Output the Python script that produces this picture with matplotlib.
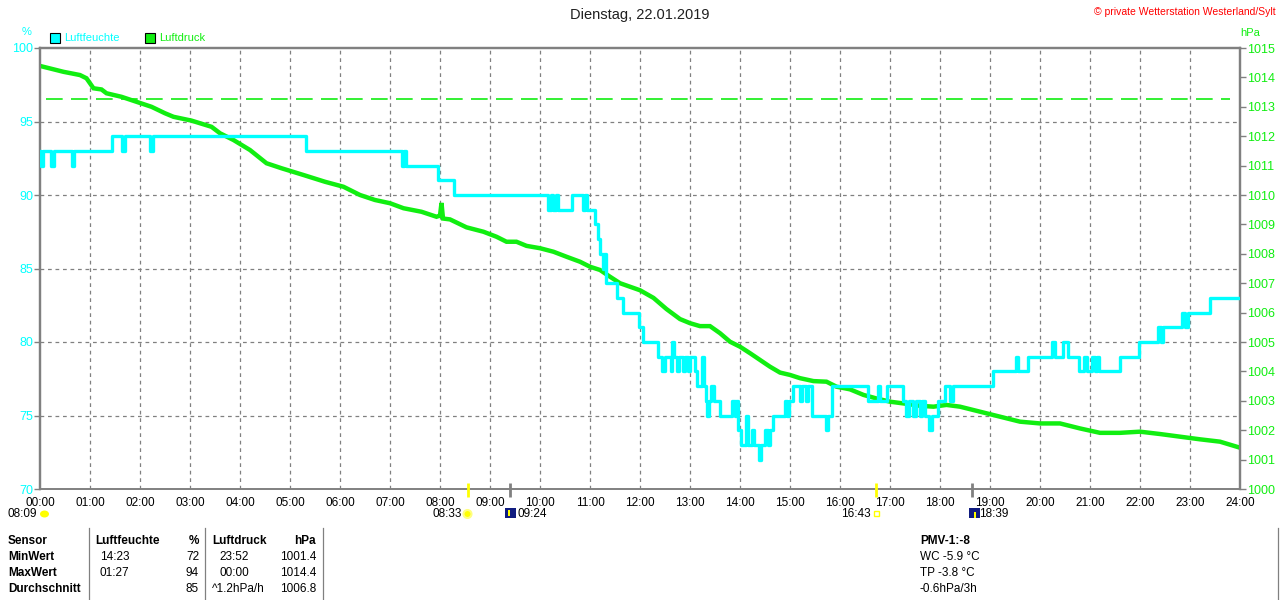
import matplotlib
matplotlib.use("Agg")
import matplotlib.pyplot as plt
import matplotlib.transforms as mtransforms
from matplotlib.patches import Rectangle, Ellipse
import numpy as np

plt.rcParams['font.family'] = ['Liberation Sans', 'DejaVu Sans']

# ---------------- data ----------------
title = "Dienstag, 22.01.2019"
copyright_text = "\u00a9 private Wetterstation Westerland/Sylt"

# relative humidity (%), step series: time in hours, value
hum_t = [0.00, 0.02, 0.06, 0.22, 0.28, 0.64, 0.68, 1.44, 1.64, 1.70, 2.20, 2.26,
         5.32, 7.24, 7.28, 7.32, 7.96, 8.28, 10.16, 10.22, 10.26, 10.32, 10.36,
         10.64, 10.86, 10.90, 10.94, 11.10, 11.16, 11.20, 11.26, 11.28, 11.32,
         11.54, 11.66, 11.98, 12.06, 12.36, 12.44, 12.50, 12.62, 12.64, 12.68,
         12.74, 12.78, 12.86, 12.90, 12.96, 13.00, 13.10, 13.14, 13.24, 13.28,
         13.32, 13.34, 13.38, 13.42, 13.48, 13.60, 13.84, 13.90, 13.92, 13.96,
         14.02, 14.12, 14.16, 14.24, 14.28, 14.38, 14.42, 14.50, 14.56, 14.60,
         14.66, 14.90, 14.94, 14.98, 15.06, 15.20, 15.24, 15.32, 15.36, 15.44,
         15.72, 15.76, 15.84, 16.56, 16.76, 16.80, 16.94, 17.26, 17.32, 17.38,
         17.46, 17.52, 17.60, 17.64, 17.70, 17.78, 17.84, 17.96, 18.10, 18.20,
         18.26, 19.06, 19.52, 19.56, 19.76, 20.24, 20.30, 20.46, 20.56, 20.78,
         20.88, 20.94, 21.04, 21.10, 21.14, 21.18, 21.60, 21.98, 22.36, 22.42,
         22.46, 22.84, 22.90, 22.96, 23.40, 24.00]
hum_v = [93, 92, 93, 92, 93, 92, 93, 94, 93, 94, 93, 94,
         93, 92, 93, 92, 91, 90, 89, 90, 89, 90, 89,
         90, 89, 90, 89, 88, 87, 86, 85, 86, 84,
         83, 82, 81, 80, 79, 78, 79, 78, 80, 79,
         78, 79, 78, 79, 78, 79, 78, 77, 79, 77,
         76, 75, 76, 77, 76, 75, 76, 75, 76, 74,
         73, 75, 73, 74, 73, 72, 73, 74, 73, 74,
         75, 76, 75, 76, 77, 76, 77, 76, 77, 75,
         74, 75, 77, 76, 77, 76, 77, 76, 75, 76,
         75, 76, 75, 76, 75, 74, 75, 76, 77, 76,
         77, 78, 79, 78, 79, 80, 79, 80, 79, 78,
         79, 78, 79, 78, 79, 78, 79, 80, 81, 80,
         81, 82, 81, 82, 83, 83]

# air pressure (hPa)
pres_t = [0.00, 0.47, 0.80, 0.93, 1.07, 1.23, 1.33, 1.63, 1.93, 2.23, 2.50, 2.67,
          3.03, 3.43, 3.60, 3.87, 4.20, 4.53, 4.83, 5.27, 5.70, 6.07, 6.40, 6.70,
          7.00, 7.27, 7.63, 7.93, 8.00, 8.03, 8.06, 8.20, 8.53, 8.87, 9.13, 9.33,
          9.53, 9.73, 10.00, 10.27, 10.53, 10.80, 11.00, 11.20, 11.40, 11.60,
          11.80, 12.00, 12.27, 12.53, 12.80, 13.00, 13.20, 13.40, 13.60, 13.80,
          14.00, 14.20, 14.40, 14.60, 14.80, 15.00, 15.20, 15.47, 15.73, 15.93,
          16.20, 16.47, 16.73, 17.00, 17.27, 17.60, 17.87, 18.13, 18.40, 18.80,
          19.20, 19.60, 20.00, 20.40, 20.80, 21.20, 21.60, 22.00, 22.40, 22.80,
          23.20, 23.60, 23.97]
pres_v = [1014.39, 1014.19, 1014.08, 1013.97, 1013.63, 1013.59, 1013.46, 1013.34,
          1013.17, 1013.00, 1012.78, 1012.66, 1012.53, 1012.32, 1012.10, 1011.87,
          1011.53, 1011.08, 1010.91, 1010.68, 1010.45, 1010.28, 1010.00, 1009.83,
          1009.72, 1009.55, 1009.43, 1009.26, 1009.30, 1009.73, 1009.20, 1009.17,
          1008.90, 1008.75, 1008.58, 1008.41, 1008.41, 1008.27, 1008.19, 1008.07,
          1007.90, 1007.73, 1007.56, 1007.45, 1007.22, 1007.00, 1006.88, 1006.76,
          1006.50, 1006.12, 1005.78, 1005.64, 1005.54, 1005.54, 1005.30, 1005.01,
          1004.84, 1004.62, 1004.39, 1004.16, 1003.96, 1003.88, 1003.77, 1003.67,
          1003.65, 1003.48, 1003.39, 1003.20, 1003.08, 1002.97, 1002.91, 1002.83,
          1002.80, 1002.86, 1002.80, 1002.63, 1002.46, 1002.29, 1002.23, 1002.23,
          1002.06, 1001.91, 1001.91, 1001.95, 1001.87, 1001.78, 1001.69, 1001.61,
          1001.42]
pres_ref = 1013.25

hum_ticks = [70, 75, 80, 85, 90, 95, 100]
pres_ticks = list(range(1000, 1016))
hour_ticks = list(range(0, 25))
hour_labels = [f"{h:02d}:00" for h in hour_ticks]

# sun / moon events (hours)
sunrise, sunset = 8 + 33 / 60, 16 + 43 / 60
moonset, moonrise = 9 + 24 / 60, 18 + 39 / 60
dawn_label = "08:09"

table_rows = ["Sensor", "MinWert", "MaxWert", "Durchschnitt"]
hum_col_time = ["Luftfeuchte", "14:23", "01:27", ""]
hum_col_val = ["%", "72", "94", "85"]
pres_col_time = ["Luftdruck", "23:52", "00:00", "^1.2hPa/h"]
pres_col_val = ["hPa", "1001.4", "1014.4", "1006.8"]
pmv_lines = ["PMV-1:-8", "WC -5.9 \u00b0C", "TP -3.8 \u00b0C", "-0.6hPa/3h"]

# ---------------- style ----------------
CYAN = "#00ffff"
GREEN = "#11ee11"
GRAY = "#808080"
W, H = 1280, 600

def fx(x):
    return x / W

def fy(y):
    return 1 - y / H

fig = plt.figure(figsize=(12.8, 6), dpi=100)
ax = fig.add_axes([fx(40), fy(489), 1200 / W, 441 / H])
ax2 = ax.twinx()
ax.set_zorder(ax2.get_zorder() + 1)
ax.patch.set_visible(False)

ax.set_xlim(0, 24)
ax.set_ylim(70, 100)
ax2.set_ylim(1000, 1015)

# grid
for h in hour_ticks[1:-1]:
    ax2.axvline(h, color=GRAY, lw=0.9, ls=(0, (3, 3)), zorder=1)
for v in hum_ticks[1:-1]:
    ax2.axhline(1000 + (v - 70) / 2, color=GRAY, lw=0.9, ls=(0, (3, 3)), zorder=1)

# reference pressure line
ax2.axhline(pres_ref, xmin=0.005, xmax=0.992, color=GREEN, lw=1.2,
            ls=(0, (10, 5)), zorder=2)

ax2.plot(pres_t, pres_v, color=GREEN, lw=3.2, zorder=3, solid_joinstyle='miter')
ax.plot(hum_t, hum_v, color=CYAN, lw=2.4, drawstyle='steps-post', zorder=4)

# spines
for a in (ax, ax2):
    for s in a.spines.values():
        s.set_color(GRAY)
        s.set_linewidth(1.6)
    a.spines['bottom'].set_linewidth(1.2)

ax.set_yticks(hum_ticks)
ax.set_yticklabels([str(v) for v in hum_ticks])
ax.tick_params(axis='y', colors=GRAY, labelcolor=CYAN, labelsize=9, length=4,
               width=1, pad=1)
ax2.set_yticks(pres_ticks)
ax2.set_yticklabels([str(v) for v in pres_ticks])
ax2.tick_params(axis='y', colors=GRAY, labelcolor=GREEN, labelsize=9, length=4,
                width=1, pad=1)
ax.set_xticks(hour_ticks)
ax.set_xticklabels(hour_labels)
ax.tick_params(axis='x', length=0, labelsize=8.5, pad=6, labelcolor='black')

# event ticks under the axis
trans = mtransforms.blended_transform_factory(ax.transData, ax.transAxes)
for t, c in [(sunrise, '#ffff00'), (sunset, '#ffff00'), (moonset, GRAY), (moonrise, GRAY)]:
    ax.plot([t, t], [(489 - 483) / 441, (489 - 497) / 441], color=c, lw=2,
            transform=trans, clip_on=False, zorder=10, solid_capstyle='butt')

def hfmt(t):
    m = int(round(t * 60))
    return f"{m // 60:02d}:{m % 60:02d}"

ty = fy(514)
fs_small = 8.5
fig.text(fx(37), ty, dawn_label, ha='right', va='center', fontsize=fs_small)
fig.patches.append(Ellipse((fx(44.5), fy(514)), 9 / W, 7 / H, transform=fig.transFigure,
                           facecolor='#ffff00', edgecolor='none'))
# sunrise
xs = 40 + sunrise * 50
fig.text(fx(xs - 6), ty, hfmt(sunrise), ha='right', va='center', fontsize=fs_small)
fig.patches.append(Ellipse((fx(xs), fy(514)), 8 / W, 8 / H, transform=fig.transFigure,
                           facecolor='#ffff00', edgecolor='#ffff80', lw=1.5))
# moonset
xm = 40 + moonset * 50
fig.patches.append(Rectangle((fx(xm - 5), fy(518)), 11 / W, 10 / H, transform=fig.transFigure,
                             facecolor='#101c80', edgecolor='none'))
fig.patches.append(Rectangle((fx(xm - 2), fy(516)), 2 / W, 6 / H, transform=fig.transFigure,
                             facecolor='#ffff00', edgecolor='none'))
fig.text(fx(xm + 7), ty, hfmt(moonset), ha='left', va='center', fontsize=fs_small)
# sunset
xs2 = 40 + sunset * 50
fig.text(fx(xs2 - 5), ty, hfmt(sunset), ha='right', va='center', fontsize=fs_small)
fig.patches.append(Rectangle((fx(xs2 - 2), fy(516)), 5 / W, 5 / H, transform=fig.transFigure,
                             facecolor='none', edgecolor='#ffff00', lw=1))
# moonrise
xm2 = 40 + moonrise * 50
fig.patches.append(Rectangle((fx(xm2 - 4), fy(518)), 11 / W, 10 / H, transform=fig.transFigure,
                             facecolor='#101c80', edgecolor='none'))
fig.patches.append(Rectangle((fx(xm2 + 1), fy(518)), 2 / W, 6 / H, transform=fig.transFigure,
                             facecolor='#ffff00', edgecolor='none'))
fig.text(fx(xm2 + 7), ty, hfmt(moonrise), ha='left', va='center', fontsize=fs_small)

# titles
fig.text(0.5, fy(15), title, ha='center', va='center', fontsize=10.5, color='#202020')
fig.text(fx(1276), fy(12), copyright_text, ha='right', va='center', fontsize=7.5,
         color='#ff0000')
fig.text(fx(27), fy(32), "%", ha='center', va='center', fontsize=8, color=CYAN)
fig.text(fx(1250), fy(33), "hPa", ha='center', va='center', fontsize=8, color=GREEN)

# legend
fig.patches.append(Rectangle((fx(50), fy(43)), 10 / W, 10 / H, transform=fig.transFigure,
                             facecolor=CYAN, edgecolor='black', lw=0.8))
fig.text(fx(64), fy(38), "Luftfeuchte", ha='left', va='center', fontsize=8, color=CYAN)
fig.patches.append(Rectangle((fx(145), fy(43)), 10 / W, 10 / H, transform=fig.transFigure,
                             facecolor=GREEN, edgecolor='black', lw=0.8))
fig.text(fx(159), fy(38), "Luftdruck", ha='left', va='center', fontsize=8, color=GREEN)

# bottom table
row_y = [541, 557, 573, 589]
fst = 8.5
for i, y in enumerate(row_y):
    fig.text(fx(8), fy(y), table_rows[i], ha='left', va='center', fontsize=fst,
             fontweight='bold')
    w = 'bold' if i == 0 else 'normal'
    fig.text(fx(95 if i == 0 else 100), fy(y), hum_col_time[i], ha='left', va='center',
             fontsize=fst, fontweight=w)
    fig.text(fx(199), fy(y), hum_col_val[i], ha='right', va='center', fontsize=fst,
             fontweight=w)
    fig.text(fx(212 if i in (0, 3) else 219), fy(y), pres_col_time[i], ha='left',
             va='center', fontsize=fst, fontweight=w)
    fig.text(fx(316), fy(y), pres_col_val[i], ha='right', va='center', fontsize=fst,
             fontweight=w)
    fig.text(fx(920), fy(y), pmv_lines[i], ha='left', va='center', fontsize=fst,
             fontweight=w)

for xl in (89, 205, 323, 1278):
    fig.add_artist(plt.Line2D([fx(xl), fx(xl)], [fy(528), fy(600)], color=GRAY, lw=0.9,
                              transform=fig.transFigure))

fig.savefig("out.png", dpi=100)
